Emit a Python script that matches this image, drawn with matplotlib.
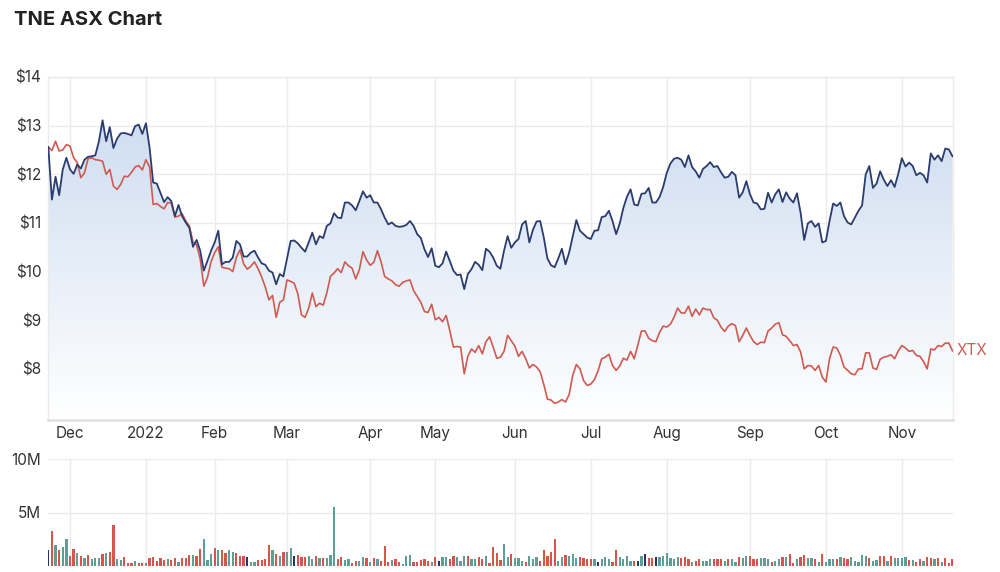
import numpy as np
import matplotlib
matplotlib.use("Agg")
import matplotlib.pyplot as plt
from matplotlib.colors import LinearSegmentedColormap
from matplotlib.patches import Polygon

# ---------------- data ----------------
tne = [
    12.56, 11.48, 11.95, 11.57, 12.10, 12.34, 12.10, 12.01, 12.20, 12.12,
    12.30, 12.36, 12.37, 12.39, 12.68, 13.11, 12.68, 12.97, 12.54, 12.73,
    12.84, 12.85, 12.83, 12.80, 12.99, 13.02, 12.83, 13.05, 12.55, 11.83,
    11.81, 11.62, 11.43, 11.53, 11.45, 11.14, 11.37, 11.14, 11.01, 10.90,
    10.51, 10.65, 10.43, 10.02, 10.22, 10.43, 10.60, 10.84, 10.15, 10.20,
    10.20, 10.29, 10.63, 10.56, 10.31, 10.31, 10.39, 10.43, 10.29, 10.17,
    10.14, 10.02, 9.98, 9.74, 9.95, 9.90, 10.26, 10.63, 10.64, 10.58,
    10.49, 10.41, 10.60, 10.80, 10.56, 10.73, 10.69, 10.94, 10.99, 11.20,
    11.11, 11.10, 11.42, 11.42, 11.36, 11.26, 11.45, 11.65, 11.52, 11.57,
    11.42, 11.42, 11.28, 11.11, 10.97, 11.01, 10.94, 10.92, 10.93, 10.96,
    11.04, 10.94, 10.77, 10.69, 10.46, 10.30, 10.48, 10.12, 10.09, 10.17,
    10.41, 10.22, 10.02, 9.93, 9.94, 9.64, 9.95, 10.05, 10.20, 10.14,
    10.03, 10.47, 10.41, 10.29, 10.12, 10.06, 10.43, 10.73, 10.49, 10.60,
    10.67, 10.97, 11.04, 10.60, 10.86, 11.03, 11.04, 10.70, 10.27, 10.13,
    10.09, 10.27, 10.47, 10.15, 10.39, 10.73, 11.06, 10.84, 10.77, 10.70,
    10.67, 10.84, 10.85, 11.12, 11.14, 11.25, 11.04, 10.77, 10.99, 11.31,
    11.54, 11.69, 11.38, 11.36, 11.60, 11.61, 11.72, 11.42, 11.42, 11.53,
    11.74, 12.03, 12.22, 12.32, 12.34, 12.30, 12.15, 12.39, 12.15, 12.06,
    11.93, 12.11, 12.17, 12.25, 12.15, 12.17, 12.04, 11.93, 11.95, 12.05,
    11.98, 11.52, 11.63, 11.86, 11.59, 11.42, 11.40, 11.28, 11.29, 11.62,
    11.42, 11.59, 11.69, 11.43, 11.63, 11.50, 11.42, 11.61, 11.21, 10.65,
    10.99, 11.04, 10.92, 10.99, 10.60, 10.63, 11.04, 11.40, 11.35, 11.42,
    11.14, 11.01, 10.97, 11.11, 11.25, 11.36, 12.00, 12.17, 11.72, 11.81,
    12.06, 11.89, 11.76, 11.88, 11.74, 12.01, 12.33, 12.16, 12.24, 12.17,
    11.98, 12.03, 11.98, 11.83, 12.43, 12.30, 12.39, 12.27, 12.53, 12.51, 12.37,
]

xtx = [
    12.56, 12.49, 12.68, 12.48, 12.50, 12.61, 12.58, 12.34, 12.24, 11.93,
    12.03, 12.32, 12.34, 12.30, 12.29, 12.27, 12.00, 12.10, 11.76, 11.69,
    11.79, 11.96, 11.95, 12.04, 12.15, 12.18, 12.09, 12.30, 12.15, 11.38,
    11.40, 11.34, 11.29, 11.42, 11.41, 11.12, 11.14, 11.19, 11.04, 10.94,
    10.61, 10.55, 10.26, 9.70, 9.88, 10.20, 10.39, 10.51, 10.09, 10.07,
    10.06, 10.00, 10.29, 10.45, 10.16, 10.05, 10.11, 10.20, 10.06, 9.89,
    9.68, 9.42, 9.51, 9.06, 9.37, 9.42, 9.83, 9.80, 9.76, 9.54,
    9.11, 9.06, 9.25, 9.56, 9.28, 9.35, 9.31, 9.56, 9.90, 9.97,
    10.06, 9.98, 10.20, 10.12, 10.07, 9.85, 10.04, 10.41, 10.24, 10.13,
    10.19, 10.43, 10.20, 9.90, 9.85, 9.81, 9.73, 9.70, 9.78, 9.81,
    9.83, 9.61, 9.49, 9.37, 9.18, 9.16, 9.33, 9.01, 9.06, 8.97,
    9.10, 8.79, 8.45, 8.46, 8.45, 7.90, 8.26, 8.41, 8.34, 8.48,
    8.31, 8.56, 8.66, 8.45, 8.22, 8.24, 8.36, 8.69, 8.58, 8.47,
    8.26, 8.36, 8.21, 8.02, 8.09, 8.04, 7.94, 7.68, 7.38, 7.36,
    7.29, 7.32, 7.37, 7.32, 7.47, 7.87, 8.09, 8.00, 7.76, 7.66,
    7.69, 7.78, 7.96, 8.21, 8.24, 8.30, 8.07, 7.97, 8.06, 8.22,
    8.18, 8.36, 8.21, 8.49, 8.78, 8.78, 8.63, 8.58, 8.56, 8.75,
    8.88, 8.86, 8.92, 9.06, 9.25, 9.15, 9.15, 9.29, 9.08, 9.23,
    9.11, 9.25, 9.22, 9.22, 9.05, 9.00, 8.86, 8.77, 8.88, 8.93,
    8.89, 8.56, 8.69, 8.84, 8.69, 8.56, 8.50, 8.55, 8.54, 8.78,
    8.84, 8.92, 8.95, 8.70, 8.67, 8.58, 8.48, 8.50, 8.35, 8.00,
    8.07, 8.06, 7.97, 8.07, 7.83, 7.73, 8.21, 8.45, 8.43, 8.28,
    8.04, 7.97, 7.90, 7.88, 8.00, 8.00, 8.33, 8.33, 8.02, 7.99,
    8.20, 8.24, 8.26, 8.29, 8.21, 8.37, 8.48, 8.43, 8.36, 8.38,
    8.28, 8.26, 8.15, 8.00, 8.41, 8.39, 8.48, 8.46, 8.53, 8.53, 8.37,
]

volume_m = [
    1.50, 3.30, 2.00, 1.45, 1.75, 2.50, 0.95, 1.55, 1.25, 0.95,
    0.72, 1.03, 0.63, 0.72, 0.72, 1.12, 1.20, 1.35, 3.85, 0.63,
    0.56, 0.81, 0.31, 0.25, 0.50, 0.31, 0.25, 0.31, 0.72, 0.81,
    0.50, 0.72, 0.56, 0.63, 0.56, 0.72, 0.40, 0.72, 0.72, 1.03,
    1.03, 0.95, 1.55, 2.50, 0.56, 1.12, 1.65, 1.45, 1.45, 1.20,
    1.45, 1.35, 1.20, 0.95, 0.95, 0.81, 0.40, 0.40, 0.56, 0.56,
    0.63, 2.00, 1.45, 1.12, 0.95, 1.35, 1.35, 1.65, 0.95, 1.03,
    0.88, 0.81, 0.95, 0.63, 0.95, 0.72, 0.72, 0.72, 1.03, 5.50,
    0.63, 0.81, 0.56, 0.63, 0.31, 0.50, 0.50, 0.81, 0.72, 0.40,
    0.72, 0.63, 0.50, 1.88, 0.40, 0.56, 0.63, 0.40, 0.19, 0.95,
    1.03, 0.40, 0.40, 0.56, 0.63, 0.50, 0.40, 0.81, 0.50, 0.81,
    0.81, 0.63, 0.95, 0.81, 0.50, 0.95, 0.95, 0.63, 0.63, 0.81,
    0.63, 0.95, 0.31, 1.75, 1.25, 0.56, 2.06, 0.88, 1.12, 0.72,
    0.72, 0.50, 0.40, 0.95, 0.63, 0.81, 0.50, 1.50, 0.95, 1.35,
    2.50, 0.50, 0.81, 1.03, 0.95, 1.12, 0.72, 0.81, 0.72, 0.63,
    0.63, 0.63, 0.40, 0.63, 0.81, 0.63, 0.40, 1.45, 0.81, 0.63,
    0.95, 0.50, 0.50, 0.50, 0.95, 1.12, 0.72, 0.72, 0.81, 0.81,
    0.95, 1.25, 0.72, 0.63, 0.81, 0.72, 0.81, 0.63, 0.40, 0.50,
    0.63, 0.50, 0.50, 0.63, 0.63, 0.63, 0.63, 0.50, 0.63, 0.63,
    0.40, 0.81, 0.72, 0.95, 0.95, 0.63, 0.63, 0.72, 0.72, 0.63,
    0.40, 0.50, 0.63, 0.81, 0.81, 1.12, 0.31, 0.63, 0.81, 1.03,
    0.72, 0.72, 0.63, 0.40, 1.12, 0.40, 0.63, 0.63, 0.63, 0.81,
    0.72, 0.63, 0.81, 0.50, 0.40, 1.03, 0.95, 0.72, 0.50, 0.56,
    0.95, 0.95, 0.50, 0.95, 0.72, 0.72, 0.72, 0.81, 0.56, 0.56,
    0.40, 0.63, 0.50, 0.81, 0.72, 0.63, 0.72, 0.40, 0.72, 0.31, 0.63,
]

# r = down day, g = up day, b = unchanged
volume_dir = (
    "brgrggrrgr" "grgggrgrrg" "grrrgrrgrr" "rrrgrrgrrr"
    "grrgggrgrr" "ggrrrbggrr" "rrgrgrggbr" "rrggrgrggg"
    "rrggrrggrg" "rgrrrgrrgg" "grrrrrgrbg" "grrgggrggr"
    "rgrrrrggrg" "ggrgggrrrr" "rggrgggrrr" "rgbgggrrgg"
    "ggrbgbrrbg" "gggggrrrgr" "rgggrrrgrg" "grggrrrggg"
    "rggrgrrgrr" "ggrgrgggrg" "rrgggggrgg" "rrgrggggrg"
    "rrgrrgrgrr" "r"
)

month_pos = [6, 27, 46, 66, 89, 107, 129, 150, 171, 194, 215, 236]
month_labels = ["Dec", "2022", "Feb", "Mar", "Apr", "May", "Jun", "Jul",
                "Aug", "Sep", "Oct", "Nov"]
price_ticks = [8, 9, 10, 11, 12, 13, 14]
volume_ticks = [5e6, 10e6]
volume_tick_labels = ["5M", "10M"]

# ---------------- styling ----------------
NAVY = "#2b3c6e"
RED_LINE = "#d05a50"
BAR_COLORS = {"r": "#d6564c", "g": "#5e9e96", "b": "#28346a"}
GRID = "#ebebeb"
TEXT = "#333333"

plt.rcParams["font.family"] = ["Inter", "DejaVu Sans"]

W, H = 1000, 572
fig = plt.figure(figsize=(W / 100, H / 100), dpi=100)

def px_axes(left, top, right, bottom):
    return fig.add_axes([left / W, 1 - bottom / H, (right - left) / W, (bottom - top) / H])

x = np.arange(len(tne))
xmax = len(tne) - 1

# ---------------- price panel ----------------
ax = px_axes(48.3, 77, 952.5, 420)
ymin, ymax = 6.95, 14.0
ax.set_xlim(0, xmax)
ax.set_ylim(ymin, ymax)

# gradient area under TNE
cmap = LinearSegmentedColormap.from_list("fillgrad", ["#ffffff", "#c8d9ef"])
grad = np.linspace(0, 1, 256).reshape(-1, 1)
img = ax.imshow(grad, extent=[0, xmax, ymin, ymax], origin="lower", cmap=cmap,
                aspect="auto", zorder=1, interpolation="bicubic")
verts = [(0, ymin)] + list(zip(x, tne)) + [(xmax, ymin)]
poly = Polygon(verts, closed=True, facecolor="none", edgecolor="none")
ax.add_patch(poly)
img.set_clip_path(poly)

ax.plot(x, xtx, color=RED_LINE, lw=1.2, zorder=3, solid_joinstyle="round")
ax.plot(x, tne, color=NAVY, lw=1.3, zorder=4, solid_joinstyle="round")

ax.set_yticks(price_ticks)
ax.set_yticklabels([f"${v}" for v in price_ticks])
ax.set_xticks(month_pos)
ax.set_xticklabels(month_labels)
ax.grid(True, color=GRID, lw=1, zorder=0)
ax.set_axisbelow(True)
ax.tick_params(length=0, labelsize=11, colors=TEXT, pad=5)
ax.tick_params(axis="x", pad=4.5)
for s in ["top", "right", "left"]:
    ax.spines[s].set_color(GRID)
    ax.spines[s].set_linewidth(1)
ax.spines["bottom"].set_color("#e2e2e2")
ax.spines["bottom"].set_linewidth(2)

ax.text(xmax + 1.0, xtx[-1], "XTX", color=RED_LINE, fontsize=11,
        va="center", ha="left", clip_on=False)

# ---------------- volume panel ----------------
axv = px_axes(48.3, 459, 952.5, 566)
vols = np.array(volume_m) * 1e6
cols = [BAR_COLORS[c] for c in volume_dir]
axv.bar(x, vols, width=0.62, color=cols, zorder=2)
axv.set_xlim(0, xmax)
axv.set_ylim(0, 10e6)
axv.set_yticks(volume_ticks)
axv.set_yticklabels(volume_tick_labels)
axv.set_xticks(month_pos)
axv.set_xticklabels([])
axv.grid(True, color=GRID, lw=1, zorder=0)
axv.set_axisbelow(True)
axv.tick_params(length=0, labelsize=11, colors=TEXT, pad=5)
for s in ["top", "right", "left", "bottom"]:
    axv.spines[s].set_visible(False)

fig.text(14 / W, 1 - 20 / H, "TNE ASX Chart", fontsize=14.5, fontweight="bold",
         color="#222222", ha="left", va="center")

fig.savefig("out.png", dpi=100, facecolor="white")
